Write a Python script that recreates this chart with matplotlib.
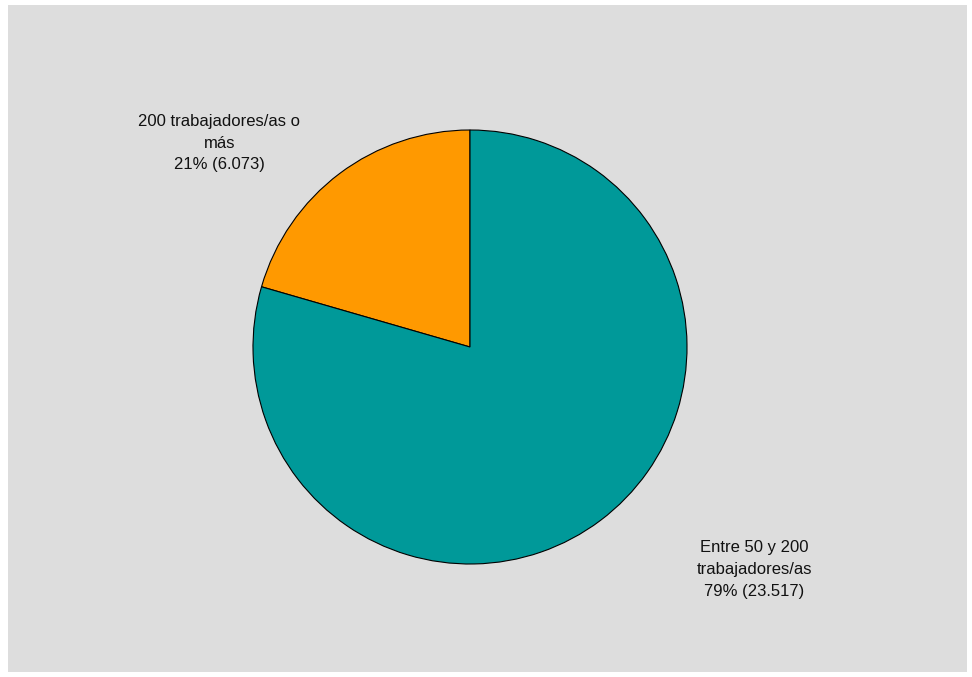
import matplotlib.pyplot as plt
from matplotlib.patches import Rectangle

# companies by staff size
categorias = ['200 trabajadores/as o\nmás', 'Entre 50 y 200\ntrabajadores/as']
valores = [6073, 23517]
colores = ['#ff9900', '#009999']

plt.rcParams['font.family'] = ['Liberation Sans', 'DejaVu Sans']

W, H = 972, 677
fig = plt.figure(figsize=(W / 100, H / 100), dpi=100)
fig.patch.set_facecolor('white')
# grey panel behind the chart
fig.patches.append(Rectangle((8 / W, 5 / H), 959 / W, 667 / H, transform=fig.transFigure,
                             facecolor='#dddddd', edgecolor='none', zorder=-10))

# pie centre (470, 347) px, radius 217 px
r = 217
ax = fig.add_axes([(470 - 1.25 * r) / W, (H - 347 - 1.25 * r) / H, 2.5 * r / W, 2.5 * r / H])
ax.pie(valores, colors=colores, startangle=90, counterclock=True,
       wedgeprops={'edgecolor': 'black', 'linewidth': 0.8})
ax.set_xlim(-1.25, 1.25)
ax.set_ylim(-1.25, 1.25)
ax.set_axis_off()

total = sum(valores)
posiciones = [(-1.155, 0.94), (1.31, -1.025)]
for cat, v, (x, y) in zip(categorias, valores, posiciones):
    pct = round(100 * v / total)
    txt = f"{cat}\n{pct}% ({v:,})".replace(',', '.')
    ax.text(x, y, txt, ha='center', va='center', fontsize=12, linespacing=1.55, color='#111111')

plt.savefig('out.png', dpi=100)
